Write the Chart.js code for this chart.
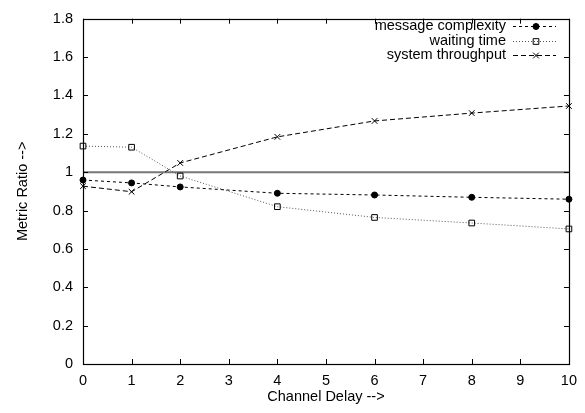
<!DOCTYPE html>
<html>
<head>
<meta charset="utf-8">
<script src="https://cdn.jsdelivr.net/npm/chart.js@4.4.1/dist/chart.umd.min.js"></script>
<style>
  html, body { margin: 0; padding: 0; background: #fff; }
  #wrap { width: 585px; height: 413px; }
</style>
</head>
<body>
<div id="wrap"><canvas id="metricChart" width="585" height="413"></canvas></div>
<script>
// values
const delays = [0, 1, 2, 4, 6, 8, 10];
const messageComplexity = [0.959, 0.944, 0.923, 0.890, 0.881, 0.869, 0.859];
const waitingTime = [1.136, 1.130, 0.980, 0.820, 0.764, 0.735, 0.704];
const systemThroughput = [0.927, 0.898, 1.048, 1.184, 1.267, 1.308, 1.345];
const xTicks = [0, 1, 2, 3, 4, 5, 6, 7, 8, 9, 10];
const yTicks = [0, 0.2, 0.4, 0.6, 0.8, 1, 1.2, 1.4, 1.6, 1.8];
const refLevel = 1;

const FONT = 'Liberation Sans, Arial, Helvetica, sans-serif';
const FSIZE = 14.5;

function toPoints(xs, ys) {
  return xs.map((x, i) => ({ x: x, y: ys[i] }));
}

// gnuplot style box with inward ticks on all four sides + legend
const gnuFrame = {
  id: 'gnuFrame',
  afterDatasetsDraw(chart) {
    const ctx = chart.ctx;
    const a = chart.chartArea;
    const xs = chart.scales.x;
    const ys = chart.scales.y;
    const tl = 5;
    ctx.save();
    ctx.strokeStyle = '#000';
    ctx.lineWidth = 1;
    ctx.beginPath();
    xTicks.forEach(v => {
      const px = Math.round(xs.getPixelForValue(v)) + 0.5;
      ctx.moveTo(px, a.bottom); ctx.lineTo(px, a.bottom - tl);
      ctx.moveTo(px, a.top); ctx.lineTo(px, a.top + tl);
    });
    yTicks.forEach(v => {
      const py = Math.round(ys.getPixelForValue(v)) + 0.5;
      ctx.moveTo(a.left, py); ctx.lineTo(a.left + tl, py);
      ctx.moveTo(a.right, py); ctx.lineTo(a.right - tl, py);
    });
    ctx.stroke();
    ctx.lineWidth = 1.2;
    ctx.strokeRect(Math.round(a.left) + 0.5, Math.round(a.top) + 0.5,
      Math.round(a.right - a.left), Math.round(a.bottom - a.top));

    // legend
    const textRight = 506, sx0 = 513, sx1 = 556;
    let rowY = 26;
    ctx.font = FSIZE + 'px ' + FONT;
    ctx.textAlign = 'right';
    ctx.textBaseline = 'middle';
    chart.data.datasets.forEach(ds => {
      if (!ds.label) return;
      ctx.fillStyle = '#000';
      ctx.fillText(ds.label, textRight, rowY);
      const ly = Math.round(rowY) + 0.5;
      ctx.strokeStyle = ds.borderColor;
      ctx.lineWidth = ds.borderWidth;
      ctx.setLineDash(ds.borderDash || []);
      ctx.beginPath();
      ctx.moveTo(sx0, ly);
      ctx.lineTo(sx1, ly);
      ctx.stroke();
      ctx.setLineDash([]);
      ctx.fillStyle = ds.pointBackgroundColor;
      ctx.strokeStyle = ds.pointBorderColor;
      ctx.lineWidth = 1;
      Chart.helpers.drawPoint(ctx, {
        pointStyle: ds.pointStyle,
        radius: ds.pointRadius,
        rotation: 0,
        borderWidth: 1
      }, 536, ly);
      rowY += 14.5;
    });
    ctx.restore();
  }
};

new Chart(document.getElementById('metricChart'), {
  type: 'line',
  data: {
    datasets: [
      {
        label: '',
        data: [{ x: xTicks[0], y: refLevel }, { x: xTicks[xTicks.length - 1], y: refLevel }],
        borderColor: '#777',
        borderWidth: 2,
        pointRadius: 0,
        order: 3
      },
      {
        label: 'message complexity',
        data: toPoints(delays, messageComplexity),
        borderColor: '#000',
        borderWidth: 1,
        borderDash: [3, 3],
        pointStyle: 'circle',
        pointRadius: 3,
        pointBackgroundColor: '#000',
        pointBorderColor: '#000',
        order: 1
      },
      {
        label: 'waiting time',
        data: toPoints(delays, waitingTime),
        borderColor: '#555',
        borderWidth: 1,
        borderDash: [1, 2],
        pointStyle: 'rect',
        pointRadius: 4,
        pointBackgroundColor: 'rgba(255,255,255,0)',
        pointBorderColor: '#000',
        order: 1
      },
      {
        label: 'system throughput',
        data: toPoints(delays, systemThroughput),
        borderColor: '#000',
        borderWidth: 1,
        borderDash: [5, 3],
        pointStyle: 'crossRot',
        pointRadius: 4,
        pointBackgroundColor: '#000',
        pointBorderColor: '#000',
        order: 1
      }
    ]
  },
  options: {
    responsive: false,
    animation: false,
    clip: false,
    layout: { padding: { left: 0, right: 12, top: 11, bottom: 0 } },
    plugins: {
      legend: { display: false },
      tooltip: { enabled: false }
    },
    elements: { line: { tension: 0 }, point: { borderWidth: 1 } },
    scales: {
      x: {
        type: 'linear',
        min: 0,
        max: 10,
        afterFit: s => { s.height = 49; },
        afterBuildTicks: s => { s.ticks = xTicks.map(v => ({ value: v })); },
        grid: { display: false, drawTicks: false },
        border: { display: false },
        ticks: { color: '#000', font: { family: FONT, size: FSIZE }, padding: 8, maxRotation: 0 },
        title: { display: true, text: 'Channel Delay -->', color: '#000', font: { family: FONT, size: FSIZE }, padding: { top: 7, bottom: 7 } }
      },
      y: {
        type: 'linear',
        min: 0,
        max: 1.8,
        afterFit: s => { s.width = 83; },
        afterBuildTicks: s => { s.ticks = yTicks.map(v => ({ value: v })); },
        grid: { display: false, drawTicks: false },
        border: { display: false },
        ticks: {
          color: '#000',
          font: { family: FONT, size: FSIZE },
          padding: 10,
          callback: v => String(Math.round(v * 10) / 10)
        },
        title: { display: true, text: 'Metric Ratio -->', color: '#000', font: { family: FONT, size: FSIZE }, padding: { top: 14, bottom: 14 } }
      }
    }
  },
  plugins: [gnuFrame]
});
</script>
</body>
</html>
